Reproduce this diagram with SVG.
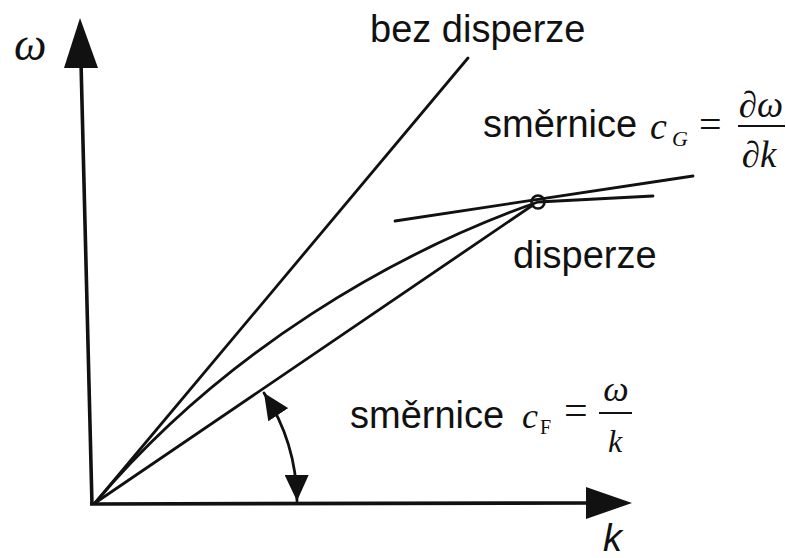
<svg xmlns="http://www.w3.org/2000/svg" width="786" height="558" viewBox="0 0 786 558">
<style>
.ln{fill:none;stroke:#111;stroke-width:2.8;stroke-linecap:round}
.ax{fill:none;stroke:#111;stroke-width:3.6}
.head{fill:#111;stroke:none}
.t{font-family:"Liberation Sans",Arial,sans-serif;font-size:38px;fill:#111}
.m{font-family:"Liberation Serif","Times New Roman",serif;font-style:italic;fill:#111}
.r{font-family:"Liberation Serif","Times New Roman",serif;fill:#111}
</style>
<defs>
<marker id="ah" viewBox="0 0 26 24" refX="26" refY="12" markerWidth="26" markerHeight="24" markerUnits="userSpaceOnUse" orient="auto-start-reverse">
<path d="M0,0 L26,12 L0,24 Z" fill="#111"/>
</marker>
</defs>
<rect width="786" height="558" fill="#fff"/>
<g id="axes">
<line class="ax" x1="92" y1="505" x2="81" y2="62"/>
<polygon class="head" points="80,18 98,68 64,68"/>
<line class="ax" x1="90" y1="504" x2="592" y2="503"/>
<polygon class="head" points="632,503 586,487 586,519"/>
<text class="m" x="14" y="60" font-size="46">ω</text>
<text class="t" x="603" y="551" font-style="italic" font-size="31">k</text>
</g>
<g id="connectors">
<line id="bez-line" class="ln" x1="95" y1="503" x2="468" y2="58"/>
<line id="phase-line" class="ln" x1="95" y1="503" x2="533" y2="205"/>
<path id="disp-curve" class="ln" d="M95,503 C224,350 396,252 538,202 L653,196"/>
<line id="tangent" class="ln" x1="395" y1="221" x2="693" y2="176"/>
<path id="angle-arc" class="ln" d="M264,393 A200,200 0 0 1 297,501" marker-start="url(#ah)" marker-end="url(#ah)"/>
</g>
<g id="point">
<circle cx="538" cy="202" r="6.5" fill="none" stroke="#111" stroke-width="2.6"/>
</g>
<g id="label-bez">
<text class="t" x="370" y="42">bez disperze</text>
</g>
<g id="label-cg">
<text class="t" x="483" y="137">směrnice</text>
<text class="m" x="650" y="139" font-size="38">c</text>
<text class="m" x="672" y="146" font-size="22">G</text>
<text class="r" x="699" y="138" font-size="40">=</text>
<text class="m" x="761" y="117" font-size="37" text-anchor="middle">∂ω</text>
<line x1="738" y1="126" x2="785" y2="126" stroke="#111" stroke-width="2"/>
<text class="m" x="759" y="167" font-size="37" text-anchor="middle">∂k</text>
</g>
<g id="label-disperze">
<text class="t" x="513" y="268">disperze</text>
</g>
<g id="label-cf">
<text class="t" x="350" y="428">směrnice</text>
<text class="m" x="522" y="428" font-size="36">c</text>
<text class="r" x="540" y="434" font-size="20">F</text>
<text class="r" x="564" y="424" font-size="42">=</text>
<text class="m" x="616" y="401" font-size="36" text-anchor="middle">ω</text>
<line x1="599" y1="413" x2="632" y2="413" stroke="#111" stroke-width="2"/>
<text class="m" x="615" y="452" font-size="32" text-anchor="middle">k</text>
</g>
</svg>
